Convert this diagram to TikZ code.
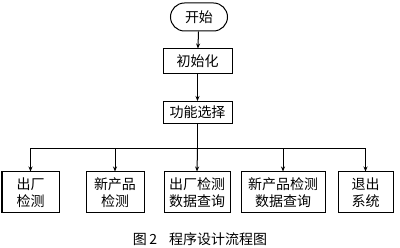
\documentclass[tikz,border=0pt]{standalone}
\usepackage{fontspec}
\newfontfamily\cjk{Noto Sans CJK SC}
\usepackage{tikz}
\usetikzlibrary{positioning, arrows.meta}

\begin{document}
\begin{tikzpicture}[x=1pt, y=-1pt, line width=1pt,
    box/.style={draw, font=\cjk\fontsize{14}{17}\selectfont, align=center,
                inner sep=0pt, minimum height=41pt},
    flow/.style={-{Stealth[length=5pt, width=4pt]}}]
  \useasboundingbox (0,0) rectangle (400,248);
  % top column
  \node[draw, rounded corners=14pt, font=\cjk\fontsize{14}{17}\selectfont,
        inner sep=0pt, minimum width=57pt, minimum height=28pt] (start) at (199,17) {开始};
  \node[box, minimum width=69pt, minimum height=25pt] (init) at (197.5,61.5) {初始化};
  \node[box, minimum width=69pt, minimum height=22pt] (select) at (197.5,112.5) {功能选择};
  \coordinate (bus) at (197.5,149);
  % bottom row
  \node[box, minimum width=57pt] (out) at (30.5,192.5) {出厂\\检测};
  \node[box, minimum width=58pt] (new) at (115,192.5) {新产品\\检测};
  \node[box, minimum width=66pt] (outq) at (197,192.5) {出厂检测\\数据查询};
  \node[box, minimum width=84pt] (newq) at (283,192.5) {新产品检测\\数据查询};
  \node[box, minimum width=55pt] (quit) at (365.5,192.5) {退出\\系统};
  % connectors
  \draw[flow] (start) -- (init);
  \draw[flow] (init) -- (select);
  \draw (select.south) -- (bus);
  \draw[flow] (bus) -| (out.north);
  \draw[flow] (bus) -| (new.north);
  \draw[flow] (bus) -- (outq.north);
  \draw[flow] (bus) -| (newq.north);
  \draw[flow] (bus) -| (quit.north);
  % caption
  \node[font=\cjk\fontsize{14}{16}\selectfont] (caption) at (200,239) {图\,2\hspace{12pt}程序设计流程图};
\end{tikzpicture}
\end{document}
